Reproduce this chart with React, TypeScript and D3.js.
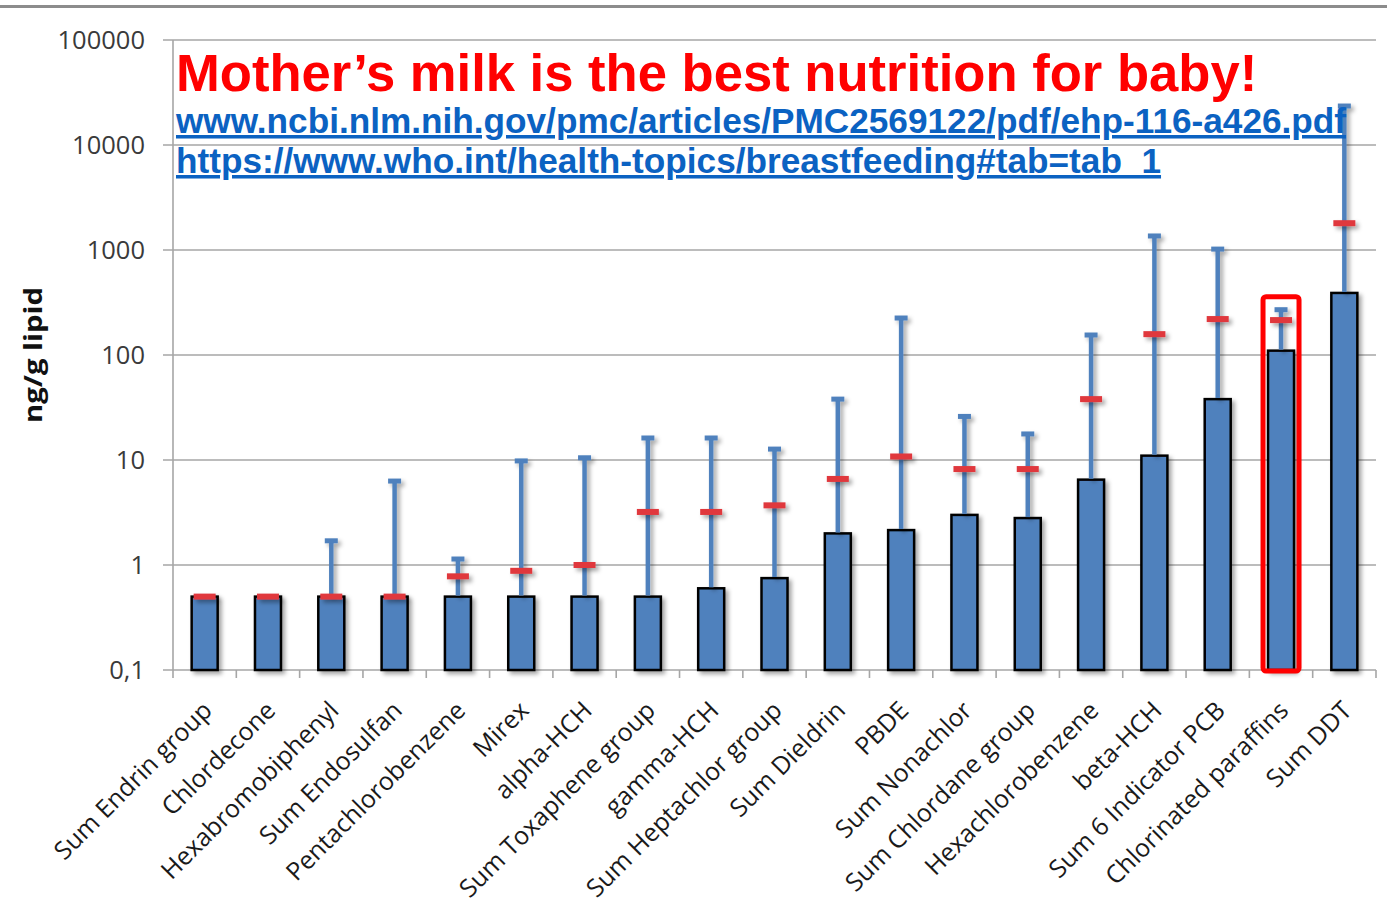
import React from "react";
import * as d3 from "d3";

// Persistent organic pollutants in human milk, ng/g lipid (log scale)
const categories = [
  "Sum Endrin group",
  "Chlordecone",
  "Hexabromobiphenyl",
  "Sum Endosulfan",
  "Pentachlorobenzene",
  "Mirex",
  "alpha-HCH",
  "Sum Toxaphene group",
  "gamma-HCH",
  "Sum Heptachlor group",
  "Sum Dieldrin",
  "PBDE",
  "Sum Nonachlor",
  "Sum Chlordane group",
  "Hexachlorobenzene",
  "beta-HCH",
  "Sum 6 Indicator PCB",
  "Chlorinated paraffins",
  "Sum DDT",
];

// bar heights (low end of the range)
const barValues = [0.5, 0.5, 0.5, 0.5, 0.5, 0.5, 0.5, 0.5, 0.6, 0.75, 2, 2.15, 3, 2.8, 6.5, 11, 38, 110, 390];

// red marks (central value)
const midValues = [0.5, 0.5, 0.5, 0.5, 0.78, 0.88, 1.0, 3.2, 3.2, 3.7, 6.6, 10.8, 8.2, 8.2, 38, 158, 220, 215, 1800];

// top of the whisker (maximum); null = no whisker
const maxValues: (number | null)[] = [
  null, null, 1.7, 6.3, 1.14, 9.8, 10.5, 16.2, 16.2, 12.7, 38, 225, 26, 17.7, 155, 1360, 1020, 270, 23500,
];

const yTickValues = [0.1, 1, 10, 100, 1000, 10000, 100000];
const yTickLabels = ["0,1", "1", "10", "100", "1000", "10000", "100000"];

const highlighted = "Chlorinated paraffins";

const titleText = "Mother\u2019s milk is the best nutrition for baby!";
const linkLines = [
  "www.ncbi.nlm.nih.gov/pmc/articles/PMC2569122/pdf/ehp-116-a426.pdf",
  "https://www.who.int/health-topics/breastfeeding#tab=tab_1",
];

const W = 1387;
const H = 919;
const plot = { left: 173, right: 1376, top: 40, bottom: 670 };

const BLUE = "#4f81bd";
const RED_MARK = "#e0393e";
const GRID = "#a6a6a6";
const LINK = "#0b62c2";

export default function App() {
  const y = d3.scaleLog().domain([0.1, 100000]).range([plot.bottom, plot.top]);
  const x = d3.scaleBand<string>().domain(categories).range([plot.left, plot.right]).padding(0);
  const bw = x.bandwidth();
  const barW = 26;
  const cx = (c: string) => (x(c) as number) + bw / 2;

  const labelFont = "'Open Sans', 'DejaVu Sans', sans-serif";

  const hiIdx = categories.indexOf(highlighted);
  const hiMax = maxValues[hiIdx] as number;

  return (
    <svg
      width={W}
      height={H}
      viewBox={`0 0 ${W} ${H}`}
      style={{ position: "absolute", left: 0, top: 0, background: "#fff" }}
    >
      <defs>
        <filter id="shadow" x="-50%" y="-10%" width="200%" height="130%">
          <feDropShadow dx="3" dy="3" stdDeviation="2" floodColor="#000" floodOpacity="0.35" />
        </filter>
      </defs>
      <rect x={0} y={0} width={W} height={H} fill="#fff" />
      {/* frame line across the top */}
      <line x1={0} x2={W} y1={6.5} y2={6.5} stroke="#8c8c8c" strokeWidth={3} />

      {/* horizontal gridlines and y ticks */}
      {yTickValues.map((v, i) => (
        <g key={v}>
          <line x1={plot.left - 10} x2={plot.right} y1={y(v)} y2={y(v)} stroke={GRID} strokeWidth={1.6} />
          <text
            x={145}
            y={y(v)}
            dy="0.35em"
            textAnchor="end"
            fontFamily={labelFont}
            fontSize={25.5}
            fill="#3a3a3a"
          >
            {yTickLabels[i]}
          </text>
        </g>
      ))}

      {/* vertical axis */}
      <line x1={plot.left} x2={plot.left} y1={plot.top} y2={plot.bottom + 8} stroke={GRID} strokeWidth={1.6} />
      {/* category ticks */}
      {categories.map((c) => (
        <line
          key={"t" + c}
          x1={(x(c) as number) + bw}
          x2={(x(c) as number) + bw}
          y1={plot.bottom}
          y2={plot.bottom + 8}
          stroke={GRID}
          strokeWidth={1.6}
        />
      ))}

      {/* y axis title */}
      <text
        transform={`translate(42, 355) rotate(-90)`}
        textAnchor="middle"
        fontFamily={labelFont}
        fontWeight="bold"
        fontSize={25}
        textLength={136}
        lengthAdjust="spacingAndGlyphs"
        fill="#111"
      >
        ng/g lipid
      </text>

      {/* bars */}
      <g filter="url(#shadow)">
        {categories.map((c, i) => (
          <rect
            key={"b" + c}
            x={cx(c) - barW / 2}
            y={y(barValues[i])}
            width={barW}
            height={y(0.1) - y(barValues[i])}
            fill={BLUE}
            stroke="#000"
            strokeWidth={2.5}
          />
        ))}
      </g>

      {/* whiskers up to the maximum */}
      <g filter="url(#shadow)">
        {categories.map((c, i) => {
          const m = maxValues[i];
          if (m == null) return null;
          return (
            <g key={"e" + c}>
              <line x1={cx(c)} x2={cx(c)} y1={y(barValues[i]) - 1} y2={y(m)} stroke={BLUE} strokeWidth={4.5} />
              <rect x={cx(c) - 6.5} y={y(m) - 2.5} width={13} height={5} fill={BLUE} />
            </g>
          );
        })}
      </g>

      {/* central value marks */}
      <g filter="url(#shadow)">
        {categories.map((c, i) => (
          <rect
            key={"m" + c}
            x={cx(c) - 11}
            y={y(midValues[i]) - 3}
            width={22}
            height={6}
            fill={RED_MARK}
          />
        ))}
      </g>

      {/* highlight box */}
      <rect
        x={cx(highlighted) - 18}
        y={y(hiMax) - 13}
        width={36}
        height={y(0.1) + 1 - (y(hiMax) - 13)}
        fill="none"
        stroke="#ff0000"
        strokeWidth={5}
        rx={3}
      />

      {/* category labels */}
      {categories.map((c) => (
        <text
          key={"l" + c}
          transform={`translate(${cx(c) + 9}, 712) rotate(-45)`}
          textAnchor="end"
          fontFamily={labelFont}
          fontSize={25}
          fill="#1a1a1a"
        >
          {c}
        </text>
      ))}

      {/* headline and sources */}
      <text
        x={176}
        y={91}
        fontFamily="'Liberation Sans', Arial, sans-serif"
        fontWeight="bold"
        fontSize={52.6}
        fill="#ff0000"
      >
        {titleText}
      </text>
      {linkLines.map((t, i) => (
        <text
          key={t}
          x={176}
          y={133 + i * 40}
          fontFamily="'Liberation Sans', Arial, sans-serif"
          fontWeight="bold"
          fontSize={35.2}
          fill={LINK}
          textDecoration="underline"
        >
          {t}
        </text>
      ))}
    </svg>
  );
}
